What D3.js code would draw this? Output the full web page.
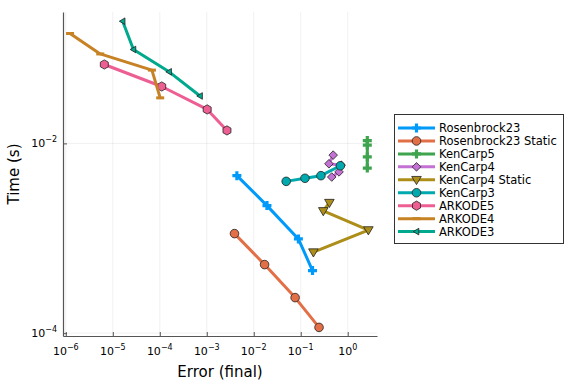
<!DOCTYPE html>
<html lang="en">
<head>
<meta charset="UTF-8">
<title>Work-precision</title>
<script src="https://d3js.org/d3.v7.min.js"></script>
<style>
  body { margin: 0; background: #fff; }
  svg text { font-family: "DejaVu Sans", sans-serif; fill: #000; }
</style>
</head>
<body>
<div id="chart"></div>
<script>
// series names (legend order)
const names = ["Rosenbrock23", "Rosenbrock23 Static", "KenCarp5", "KenCarp4",
  "KenCarp4 Static", "KenCarp3", "ARKODE5", "ARKODE4", "ARKODE3"];
const colors = ["#009afa", "#e36f47", "#3ea44e", "#c371d2", "#ac8e18",
  "#00a9ad", "#ed5e93", "#c68225", "#00a98d"];
const shapes = ["cross", "circle", "cross", "diamond", "dtriangle",
  "circle", "hexagon", "hline", "ltriangle"];

// final error per run
const errRos23 = [0.00437, 0.0191, 0.0891, 0.178];
const errRos23Static = [0.00389, 0.0170, 0.0759, 0.245];
const errKenCarp5 = [2.61, 2.61, 2.61, 2.61];
const errKenCarp4 = [0.457, 0.653, 0.724, 0.398, 0.490];
const errKenCarp4Static = [0.186, 2.75, 0.302, 0.407];
const errKenCarp3 = [0.049, 0.123, 0.269, 0.697];
const errArk5 = [6.6e-6, 1.10e-4, 1.02e-3, 2.69e-3];
const errArk4 = [1.23e-6, 5.4e-6, 6.8e-5, 1.02e-4];
const errArk3 = [1.62e-5, 2.75e-5, 1.58e-4, 7.2e-4];

// time (s) per run
const timeRos23 = [0.00457, 0.00221, 0.000984, 0.000457];
const timeRos23Static = [0.00112, 0.000528, 0.000237, 0.000115];
const timeKenCarp5 = [0.0107, 0.0096, 0.0072, 0.0055];
const timeKenCarp4 = [0.00442, 0.00501, 0.00589, 0.0061, 0.00753];
const timeKenCarp4Static = [0.000713, 0.00122, 0.00194, 0.00237];
const timeKenCarp3 = [0.00398, 0.00429, 0.00457, 0.00581];
const timeArk5 = [0.0679, 0.0398, 0.0228, 0.0137];
const timeArk4 = [0.144, 0.0877, 0.0592, 0.0302];
const timeArk3 = [0.194, 0.0977, 0.0568, 0.0316];

const errs = [errRos23, errRos23Static, errKenCarp5, errKenCarp4, errKenCarp4Static,
  errKenCarp3, errArk5, errArk4, errArk3];
const times = [timeRos23, timeRos23Static, timeKenCarp5, timeKenCarp4, timeKenCarp4Static,
  timeKenCarp3, timeArk5, timeArk4, timeArk3];

const xTicks = [1e-6, 1e-5, 1e-4, 1e-3, 1e-2, 1e-1, 1];
const yTicks = [1e-4, 1e-2];

const width = 576, height = 384;
const plot = { left: 63, right: 377, top: 12, bottom: 336 };

const x = d3.scaleLog().domain([Math.pow(10, -6.06), Math.pow(10, 0.623)])
  .range([plot.left, plot.right]);
const y = d3.scaleLog().domain([Math.pow(10, -4.03), Math.pow(10, -0.615)])
  .range([plot.bottom, plot.top]);

const svg = d3.select("#chart").append("svg")
  .attr("width", width).attr("height", height);

// marker path centred on 0,0
function markerPath(shape) {
  const p = d3.path();
  if (shape === "circle") {
    p.arc(0, 0, 4.3, 0, 2 * Math.PI);
  } else if (shape === "cross") {
    const a = 4.5, t = 1.6;
    p.moveTo(-t, -a); p.lineTo(t, -a); p.lineTo(t, -t); p.lineTo(a, -t);
    p.lineTo(a, t); p.lineTo(t, t); p.lineTo(t, a); p.lineTo(-t, a);
    p.lineTo(-t, t); p.lineTo(-a, t); p.lineTo(-a, -t); p.lineTo(-t, -t);
    p.closePath();
  } else if (shape === "diamond") {
    const r = 4.3;
    p.moveTo(0, -r); p.lineTo(r, 0); p.lineTo(0, r); p.lineTo(-r, 0); p.closePath();
  } else if (shape === "dtriangle") {
    const r = 4.8;
    p.moveTo(-r, -r * 0.7); p.lineTo(r, -r * 0.7); p.lineTo(0, r); p.closePath();
  } else if (shape === "ltriangle") {
    const r = 3.3;
    p.moveTo(-r, 0); p.lineTo(r * 0.7, -r); p.lineTo(r * 0.7, r); p.closePath();
  } else if (shape === "hexagon") {
    const r = 4.6;
    for (let i = 0; i < 6; i++) {
      const ang = Math.PI / 6 + i * Math.PI / 3;
      if (i === 0) p.moveTo(r * Math.cos(ang), r * Math.sin(ang));
      else p.lineTo(r * Math.cos(ang), r * Math.sin(ang));
    }
    p.closePath();
  } else if (shape === "hline") {
    p.rect(-4, -1.5, 8, 3);
  }
  return p.toString();
}
const outlined = s => !(s === "cross" || s === "hline");

// grid
const grid = svg.append("g").attr("stroke", "#000").attr("stroke-opacity", 0.1).attr("stroke-width", 0.6);
grid.selectAll(".gx").data(xTicks).join("line")
  .attr("x1", d => x(d)).attr("x2", d => x(d)).attr("y1", plot.top).attr("y2", plot.bottom);
grid.selectAll(".gy").data(yTicks).join("line")
  .attr("y1", d => y(d)).attr("y2", d => y(d)).attr("x1", plot.left).attr("x2", plot.right);

// axes (Plots style: ticks inside, spine only left/bottom)
const xAxis = svg.append("g").attr("transform", `translate(0,${plot.bottom})`)
  .call(d3.axisBottom(x).tickValues(xTicks).tickSizeInner(-4).tickSizeOuter(0).tickFormat(""));
const yAxis = svg.append("g").attr("transform", `translate(${plot.left},0)`)
  .call(d3.axisLeft(y).tickValues(yTicks).tickSizeInner(-4).tickSizeOuter(0).tickFormat(""));
[xAxis, yAxis].forEach(a => {
  a.select(".domain").attr("stroke", "#555").attr("stroke-width", 1.2);
  a.selectAll(".tick line").attr("stroke", "#555").attr("stroke-width", 1);
});

// power-of-ten tick labels
function powLabel(g, d) {
  const e = Math.round(Math.log10(d));
  g.append("tspan").text("10").attr("font-size", 11);
  g.append("tspan").text(e < 0 ? "\u2212" + (-e) : e).attr("font-size", 8).attr("dy", -5);
}
xTicks.forEach(d => {
  const t = svg.append("text").attr("x", x(d)).attr("y", 355).attr("text-anchor", "middle");
  powLabel(t, d);
});
yTicks.forEach(d => {
  const t = svg.append("text").attr("x", 57).attr("y", y(d) + 4).attr("text-anchor", "end");
  powLabel(t, d);
});

// axis titles
svg.append("text").attr("x", (plot.left + plot.right) / 2).attr("y", 377)
  .attr("text-anchor", "middle").attr("font-size", 15).text("Error (final)");
svg.append("text").attr("transform", `translate(19,${(plot.top + plot.bottom) / 2}) rotate(-90)`)
  .attr("text-anchor", "middle").attr("font-size", 15).text("Time (s)");

// series
const line = d3.line().x(d => x(d[0])).y(d => y(d[1]));
names.forEach((name, i) => {
  const pts = errs[i].map((e, j) => [e, times[i][j]]);
  const g = svg.append("g");
  g.append("path").datum(pts).attr("d", line)
    .attr("fill", "none").attr("stroke", colors[i]).attr("stroke-width", 3)
    .attr("stroke-linejoin", "round");
  g.selectAll("path.m").data(pts).join("path").attr("class", "m")
    .attr("transform", d => `translate(${x(d[0])},${y(d[1])})`)
    .attr("d", markerPath(shapes[i]))
    .attr("fill", colors[i])
    .attr("stroke", outlined(shapes[i]) ? "#222" : "none")
    .attr("stroke-width", 0.8);
});

// legend
const lg = svg.append("g");
lg.append("rect").attr("x", 394.5).attr("y", 114.5).attr("width", 169).attr("height", 129)
  .attr("fill", "#fff").attr("stroke", "#333").attr("stroke-width", 1);
names.forEach((name, i) => {
  const cy = 128 + i * 12.95;
  lg.append("line").attr("x1", 398).attr("x2", 435).attr("y1", cy).attr("y2", cy)
    .attr("stroke", colors[i]).attr("stroke-width", 3);
  lg.append("path").attr("transform", `translate(416.5,${cy})`)
    .attr("d", markerPath(shapes[i])).attr("fill", colors[i])
    .attr("stroke", outlined(shapes[i]) ? "#222" : "none").attr("stroke-width", 0.8);
  lg.append("text").attr("x", 439).attr("y", cy + 4).attr("font-size", 11.5).text(name);
});
</script>
</body>
</html>
